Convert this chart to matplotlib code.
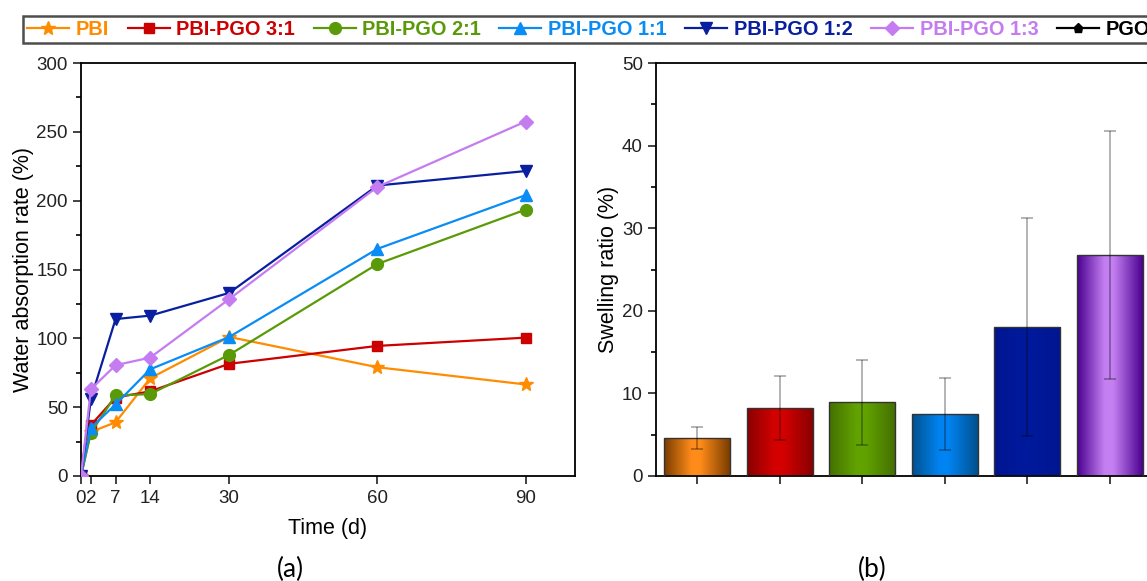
import numpy as np
import matplotlib
matplotlib.use("Agg")
import matplotlib.pyplot as plt
from matplotlib.colors import LinearSegmentedColormap
from matplotlib.ticker import MultipleLocator

# ---------------- data ----------------
days = [0, 2, 7, 14, 30, 60, 90]
labels = ["PBI", "PBI-PGO 3:1", "PBI-PGO 2:1", "PBI-PGO 1:1",
          "PBI-PGO 1:2", "PBI-PGO 1:3", "PGO"]
pbi = [0, 32, 39, 71, 101, 79, 66.5]
pgo31 = [0, 37, 57, 61.5, 81.5, 94.5, 100.5]
pgo21 = [0, 31.5, 58.5, 59.5, 88, 154, 193.5]
pgo11 = [0, 35, 52, 77.5, 101, 165, 204]
pgo12 = [0, 56, 114, 116.5, 133, 211, 221.5]
pgo13 = [0, 63, 80.5, 86, 128.5, 210, 257.5]
pgo = [0, np.nan, np.nan, np.nan, np.nan, np.nan, np.nan]
water_series = [pbi, pgo31, pgo21, pgo11, pgo12, pgo13, pgo]

swell_mean = [4.6, 8.25, 8.9, 7.5, 18.05, 26.75]
swell_err = [1.3, 3.9, 5.15, 4.4, 13.2, 15.0]

# ---------------- styles ----------------
line_colors = ["#FF8C00", "#CC0000", "#5A9A08", "#0A8CF5", "#0A1FA0", "#C47CF0", "#000000"]
markers = ["*", "s", "o", "^", "v", "D", "p"]
msizes = [10.5, 7.5, 8.5, 9, 9, 7.5, 6.5]
bar_grad = [("#7A3C00", "#FF8C1A"), ("#8A0000", "#D40000"), ("#447000", "#62A300"),
            ("#00508F", "#0084F2"), ("#001590", "#001A9C"), ("#4A0090", "#C480F2")]

plt.rcParams["font.family"] = ["Liberation Sans", "DejaVu Sans"]

fig = plt.figure(figsize=(11.47, 5.81), dpi=100)

# ---------------- panel (a) ----------------
axa = fig.add_axes([81 / 1147, 1 - 476 / 581, (575 - 81) / 1147, (476 - 63) / 581])
handles = []
for i, (vals, lab) in enumerate(zip(water_series, labels)):
    h, = axa.plot(days, vals, color=line_colors[i], marker=markers[i], markersize=msizes[i],
                  linewidth=1.6, label=lab, zorder=3 if i < 6 else 2)
    handles.append(h)
axa.set_xlim(0, 100)
axa.set_ylim(0, 300)
axa.set_xticks(days)
axa.set_xticklabels([str(d) for d in days])
axa.yaxis.set_major_locator(MultipleLocator(50))
axa.yaxis.set_minor_locator(MultipleLocator(25))
axa.tick_params(axis="both", which="major", direction="out", length=6, width=1.2,
                labelsize=13.5, colors="#222222")
axa.tick_params(axis="y", which="minor", direction="out", length=3.5, width=1.2)
axa.tick_params(axis="x", which="major", pad=4)
for s in axa.spines.values():
    s.set_linewidth(1.3)
axa.set_xlabel("Time (d)", fontsize=15.5, labelpad=8)
axa.set_ylabel("Water absorption rate (%)", fontsize=15.5, labelpad=2)

# ---------------- panel (b) ----------------
axb = fig.add_axes([656 / 1147, 1 - 476 / 581, 577.5 / 1147, (476 - 63) / 581])
xpos = np.arange(1, len(swell_mean) + 1)
bw = 0.8
bars = axb.bar(xpos, swell_mean, width=bw, color="none", edgecolor="#333333",
               linewidth=1.0, zorder=3)
for b, (dark, light), x, h in zip(bars, bar_grad, xpos, swell_mean):
    cmap = LinearSegmentedColormap.from_list(
        "g", [(0, dark), (0.42, light), (0.55, light), (1, dark)])
    grad = np.linspace(0, 1, 256).reshape(1, -1)
    im = axb.imshow(grad, cmap=cmap, extent=[x - bw / 2, x + bw / 2, 0, h],
                    aspect="auto", zorder=2, interpolation="bicubic")
    im.set_clip_path(b)
axb.errorbar(xpos, swell_mean, yerr=swell_err, fmt="none", ecolor="#000000", alpha=0.35,
             elinewidth=1.2, capsize=4, capthick=1.2, zorder=4)
axb.set_xlim(0.5, 7.5)
axb.set_ylim(0, 50)
axb.set_xticks(xpos)
axb.set_xticklabels([""] * len(xpos))
axb.yaxis.set_major_locator(MultipleLocator(10))
axb.yaxis.set_minor_locator(MultipleLocator(5))
axb.tick_params(axis="both", which="major", direction="out", length=6, width=1.2,
                labelsize=13.5, colors="#222222")
axb.tick_params(axis="y", which="minor", direction="out", length=3.5, width=1.2)
for s in axb.spines.values():
    s.set_linewidth(1.3)
axb.set_ylabel("Swelling ratio (%)", fontsize=15.5, labelpad=2)

# ---------------- legend ----------------
leg = fig.legend(handles, labels, ncol=7, loc="upper left",
                 bbox_to_anchor=(23 / 1147, 1 - 16 / 581), frameon=True,
                 fancybox=False, edgecolor="#222222", handlelength=2.1,
                 handletextpad=0.33, columnspacing=0.93, borderpad=0.2,
                 borderaxespad=0.0, prop={"weight": "bold", "size": 14.4})
leg._legend_box.sep = 0
leg.get_frame().set_linewidth(1.8)
for t, c in zip(leg.get_texts(), line_colors):
    t.set_color(c)

# ---------------- panel labels ----------------
fig.text(290 / 1147, 1 - 569 / 581, "(a)", ha="center", va="center", fontsize=19,
         family=["Lato", "DejaVu Sans"])
fig.text(872 / 1147, 1 - 569 / 581, "(b)", ha="center", va="center", fontsize=19,
         family=["Lato", "DejaVu Sans"])

fig.savefig("out.png", dpi=100)
